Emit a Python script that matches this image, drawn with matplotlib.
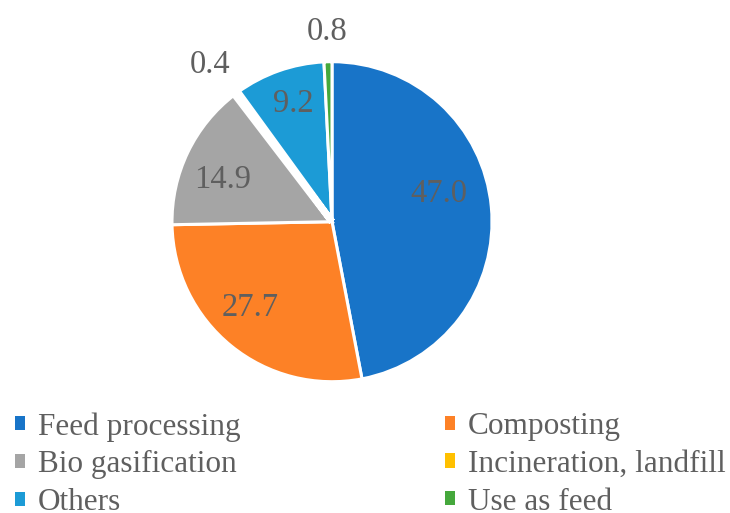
import matplotlib
matplotlib.use("Agg")
import numpy as np
import matplotlib.pyplot as plt
from matplotlib.patches import Patch

# Disposal routes and their shares (%)
categories = ["Feed processing", "Composting", "Bio gasification",
              "Incineration, landfill", "Others", "Use as feed"]
shares = [47.0, 27.7, 14.9, 0.4, 9.2, 0.8]
value_labels = ["47.0", "27.7", "14.9", "0.4", "9.2", "0.8"]

colors = ["#1874C8", "#FD8126", "#A5A5A5", "#FFC000", "#1C9BD6", "#45A83C"]
text_color = "#5F5F5F"

# label placement: radius (in pie radii) and angular nudge (degrees)
label_radius = [0.69, 0.743, 0.733, 1.243, 0.777, 1.185]
label_nudge = [9.5, -4.5, 4.7, 1.1, -1.1, 0.0]

plt.rcParams["font.family"] = ["Liberation Serif", "DejaVu Serif"]

W, H = 730, 513
fig = plt.figure(figsize=(W / 100, H / 100), dpi=100)

cx, cy, R = 332, 221.7, 160
ax = fig.add_axes([(cx - R) / W, (H - cy - R) / H, 2 * R / W, 2 * R / H])
wedges, _ = ax.pie(shares, colors=colors, startangle=90, counterclock=False,
                   wedgeprops=dict(edgecolor="white", linewidth=2.2))
# the thin incineration slice sits inside a wide white seam
wedges[3].set_linewidth(5)
wedges[3].set_zorder(wedges[3].get_zorder() + 1)
ax.set_xlim(-1, 1)
ax.set_ylim(-1, 1)
ax.axis("off")

for w, lab, r, dn in zip(wedges, value_labels, label_radius, label_nudge):
    mid = np.deg2rad((w.theta1 + w.theta2) / 2 + dn)
    ax.text(r * np.cos(mid), r * np.sin(mid), lab, ha="center", va="center",
            fontsize=23.5, color=text_color, clip_on=False, zorder=5)

handles = [Patch(facecolor=c, edgecolor="none") for c in colors]
left = [0, 2, 4]
right = [1, 3, 5]
legend_kw = dict(loc="upper left", frameon=False, fontsize=22.5, borderpad=0,
                 borderaxespad=0, handlelength=0.32, handleheight=0.32,
                 handletextpad=0.4, labelspacing=0.28, labelcolor=text_color)
fig.legend([handles[i] for i in left], [categories[i] for i in left],
           bbox_to_anchor=(15 / W, 1 - 412 / H), **legend_kw)
fig.legend([handles[i] for i in right], [categories[i] for i in right],
           bbox_to_anchor=(445 / W, 1 - 412 / H), **legend_kw)

fig.savefig("out.png", dpi=100, facecolor="white")
